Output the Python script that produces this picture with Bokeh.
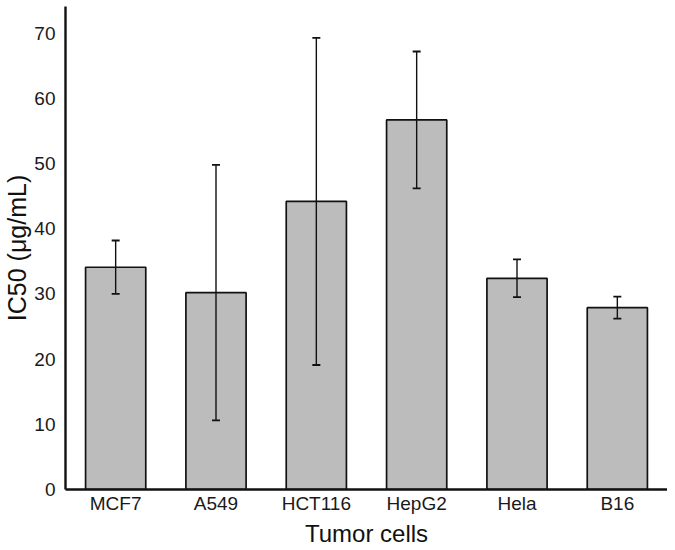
from bokeh.plotting import figure
from bokeh.models import ColumnDataSource, FactorRange, Range1d, Whisker, TeeHead, FixedTicker
from bokeh.embed import file_html
from bokeh.resources import INLINE

cells = ["MCF7", "A549", "HCT116", "HepG2", "Hela", "B16"]
ic50 = [34.1, 30.2, 44.2, 56.7, 32.4, 27.9]
err = [4.1, 19.6, 25.1, 10.5, 2.9, 1.7]
y_ticks = [0, 10, 20, 30, 40, 50, 60, 70]

upper = [v + e for v, e in zip(ic50, err)]
lower = [v - e for v, e in zip(ic50, err)]
src = ColumnDataSource(dict(cells=cells, ic50=ic50, upper=upper, lower=lower))

p = figure(frame_width=602, frame_height=483, output_backend="svg", toolbar_location=None,
           x_range=FactorRange(factors=cells, range_padding=0),
           y_range=Range1d(0, 74.1),
           min_border_left=60, min_border_right=0, min_border_top=6, min_border_bottom=0)

p.vbar(x="cells", top="ic50", width=0.6, source=src,
       fill_color="#bcbcbc", line_color="#111111", line_width=1.7)

w = Whisker(base="cells", upper="upper", lower="lower", source=src,
            line_color="#111111", line_width=1.4, level="overlay",
            upper_head=TeeHead(size=8, line_color="#111111", line_width=1.8),
            lower_head=TeeHead(size=8, line_color="#111111", line_width=1.8))
p.add_layout(w)

p.outline_line_color = None
p.xgrid.grid_line_color = None
p.ygrid.grid_line_color = None

font = "Liberation Sans"
for ax in (p.xaxis[0], p.yaxis[0]):
    ax.axis_line_color = "#111111"
    ax.axis_line_width = 2.4
    ax.major_tick_line_color = None
    ax.minor_tick_line_color = None
    ax.major_tick_out = 0
    ax.major_tick_in = 0
    ax.minor_tick_out = 0
    ax.minor_tick_in = 0
    ax.major_label_text_font = font
    ax.major_label_text_font_size = "19px"
    ax.major_label_text_color = "#1a1a1a"
    ax.axis_label_text_font = font
    ax.axis_label_text_font_style = "normal"
    ax.axis_label_text_color = "#111111"

p.yaxis.ticker = FixedTicker(ticks=y_ticks)
p.yaxis.major_label_standoff = 10
p.xaxis.major_label_standoff = 3
p.yaxis.axis_label = "IC50 (μg/mL)"
p.xaxis.axis_label = "Tumor cells"
p.yaxis.axis_label_text_font_size = "25px"
p.xaxis.axis_label_text_font_size = "24px"
p.yaxis.axis_label_standoff = 0
p.xaxis.axis_label_standoff = 3

open("out.html", "w").write(file_html(p, INLINE))
